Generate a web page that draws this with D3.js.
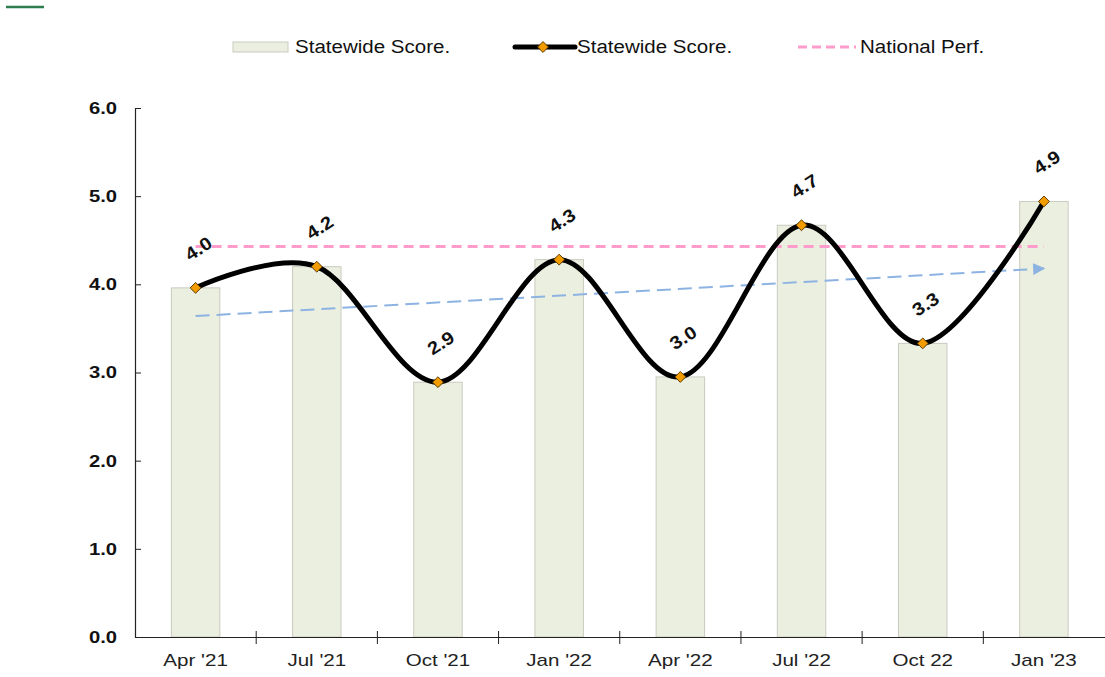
<!DOCTYPE html>
<html>
<head>
<meta charset="utf-8">
<script src="https://cdn.jsdelivr.net/npm/d3@7"></script>
<style>
  body { margin: 0; background: #fff; }
  svg text { font-family: "Liberation Sans", Arial, sans-serif; }
</style>
</head>
<body>
<div class="chart"></div>
<script>
const categories = ["Apr '21", "Jul '21", "Oct '21", "Jan '22", "Apr '22", "Jul '22", "Oct 22", "Jan '23"];
const scores = [3.96, 4.2, 2.89, 4.28, 2.95, 4.67, 3.33, 4.94];
const labels = ["4.0", "4.2", "2.9", "4.3", "3.0", "4.7", "3.3", "4.9"];
const national = [4.43, 4.43];
const trend = [3.64, 4.18];
const yTicks = [0, 1, 2, 3, 4, 5, 6];

const fullWidth = 1105;
const fullHeight = 677;
const margin = {top: 108, right: 0, bottom: 40, left: 135};
const width = fullWidth - margin.left - margin.right;
const height = fullHeight - margin.top - margin.bottom;

const root = d3.select('.chart')
    .append('svg')
        .attr('width', fullWidth)
        .attr('height', fullHeight);

// reference text is a bit wider than Liberation Sans, stretch it
function stretch(sel, k) {
    sel.each(function() {
        const w = this.getComputedTextLength();
        d3.select(this)
            .attr('textLength', w * k)
            .attr('lengthAdjust', 'spacingAndGlyphs');
    });
}

// little green rule top-left
root.append('line')
    .attr('x1', 6).attr('x2', 44)
    .attr('y1', 7).attr('y2', 7)
    .attr('stroke', '#2e7d4f')
    .attr('stroke-width', 2.5);

const svg = root.append('g')
    .attr('transform', `translate(${margin.left}, ${margin.top})`);

const xScale = d3.scaleBand()
    .domain(categories)
    .range([0, width - 0.5]);

const yScale = d3.scaleLinear()
    .domain([0, 6])
    .range([height, 0]);

const cx = d => xScale(d) + xScale.bandwidth() / 2;
const barW = xScale.bandwidth() * 0.4;

// bars
svg.selectAll('rect.bar')
    .data(categories)
    .enter()
    .append('rect')
    .attr('class', 'bar')
    .attr('x', d => cx(d) - barW / 2)
    .attr('y', (d, i) => yScale(scores[i]))
    .attr('width', barW)
    .attr('height', (d, i) => height - yScale(scores[i]))
    .attr('fill', '#ebefdf')
    .attr('stroke', '#c9cbc0')
    .attr('stroke-width', 1);

// national performance
const first = categories[0], last = categories[categories.length - 1];
svg.append('line')
    .attr('x1', cx(first)).attr('x2', cx(last))
    .attr('y1', yScale(national[0])).attr('y2', yScale(national[1]))
    .attr('stroke', '#ff9ccc')
    .attr('stroke-width', 3)
    .attr('stroke-dasharray', '10,6');

// trend arrow
root.append('defs').append('marker')
    .attr('id', 'arrow')
    .attr('viewBox', '0 0 10 10')
    .attr('refX', 9).attr('refY', 5)
    .attr('markerWidth', 6).attr('markerHeight', 6)
    .attr('markerUnits', 'strokeWidth')
    .attr('orient', 'auto')
    .append('path')
    .attr('d', 'M0,0 L10,5 L0,10 Z')
    .attr('fill', '#8db3e2');

svg.append('line')
    .attr('x1', cx(first)).attr('x2', cx(last))
    .attr('y1', yScale(trend[0])).attr('y2', yScale(trend[1]))
    .attr('stroke', '#8db3e2')
    .attr('stroke-width', 2)
    .attr('stroke-dasharray', '14,7')
    .attr('marker-end', 'url(#arrow)');

// smoothed score line
const line = d3.line()
    .x((d, i) => cx(categories[i]))
    .y(d => yScale(d))
    .curve(d3.curveCardinal.tension(0));

svg.append('path')
    .datum(scores)
    .attr('d', line)
    .attr('fill', 'none')
    .attr('stroke', '#000')
    .attr('stroke-width', 5)
    .attr('stroke-linejoin', 'round');

const diamond = d3.symbol().type(d3.symbolDiamond2).size(75);
svg.selectAll('path.pt')
    .data(scores)
    .enter()
    .append('path')
    .attr('class', 'pt')
    .attr('d', diamond)
    .attr('transform', (d, i) => `translate(${cx(categories[i])}, ${yScale(d)})`)
    .attr('fill', '#f39c00')
    .attr('stroke', '#5a3a00')
    .attr('stroke-width', 1);

// data labels
svg.selectAll('text.lbl')
    .data(labels)
    .enter()
    .append('text')
    .attr('class', 'lbl')
    .attr('transform', (d, i) => `translate(${cx(categories[i]) + 3}, ${yScale(scores[i]) - 39}) rotate(-33)`)
    .attr('text-anchor', 'middle')
    .attr('dominant-baseline', 'central')
    .attr('font-size', 18)
    .attr('font-weight', 'bold')
    .attr('fill', '#111')
    .text(d => d)
    .call(stretch, 1.12);

// axes
const yAxis = d3.axisLeft(yScale)
    .tickValues(yTicks)
    .tickFormat(d3.format('.1f'))
    .tickSizeInner(6)
    .tickSizeOuter(0)
    .tickPadding(12);
const gy = svg.append('g').call(yAxis);
gy.selectAll('.tick line').attr('x2', 6);
gy.selectAll('text')
    .attr('font-size', 17)
    .attr('font-weight', 'bold')
    .attr('fill', '#111')
    .call(stretch, 1.19);

const xAxis = d3.axisBottom(xScale)
    .tickSizeInner(0)
    .tickSizeOuter(0)
    .tickPadding(17);
const gx = svg.append('g')
    .attr('transform', `translate(0, ${height})`)
    .call(xAxis);
gx.selectAll('text')
    .attr('font-size', 17)
    .attr('fill', '#222')
    .call(stretch, 1.21);
// band boundary ticks
gx.selectAll('line.sep')
    .data(categories.slice(1))
    .enter()
    .append('line')
    .attr('class', 'sep')
    .attr('x1', d => xScale(d)).attr('x2', d => xScale(d))
    .attr('y1', -6).attr('y2', 7)
    .attr('stroke', '#222');

[gx, gy].forEach(g => {
    g.select('.domain').attr('stroke', '#222').attr('stroke-width', 1.2);
    g.selectAll('.tick line').attr('stroke', '#222');
});

// legend
const legend = root.append('g').attr('font-size', 18).attr('fill', '#111');
legend.append('rect')
    .attr('x', 233).attr('y', 42)
    .attr('width', 55).attr('height', 10)
    .attr('fill', '#ebefdf')
    .attr('stroke', '#c9cbc0');
legend.append('text')
    .attr('x', 295).attr('y', 47)
    .attr('dominant-baseline', 'central')
    .text('Statewide Score.');

legend.append('line')
    .attr('x1', 515).attr('x2', 575)
    .attr('y1', 47).attr('y2', 47)
    .attr('stroke', '#000')
    .attr('stroke-width', 5)
    .attr('stroke-linecap', 'round');
legend.append('path')
    .attr('d', diamond)
    .attr('transform', 'translate(543, 47)')
    .attr('fill', '#f39c00')
    .attr('stroke', '#5a3a00');
legend.append('text')
    .attr('x', 577).attr('y', 47)
    .attr('dominant-baseline', 'central')
    .text('Statewide Score.');

legend.append('line')
    .attr('x1', 798).attr('x2', 856)
    .attr('y1', 47).attr('y2', 47)
    .attr('stroke', '#ff9ccc')
    .attr('stroke-width', 3)
    .attr('stroke-dasharray', '9,5');
legend.append('text')
    .attr('x', 860).attr('y', 47)
    .attr('dominant-baseline', 'central')
    .text('National Perf.');

stretch(legend.selectAll('text'), 1.14);
</script>
</body>
</html>
